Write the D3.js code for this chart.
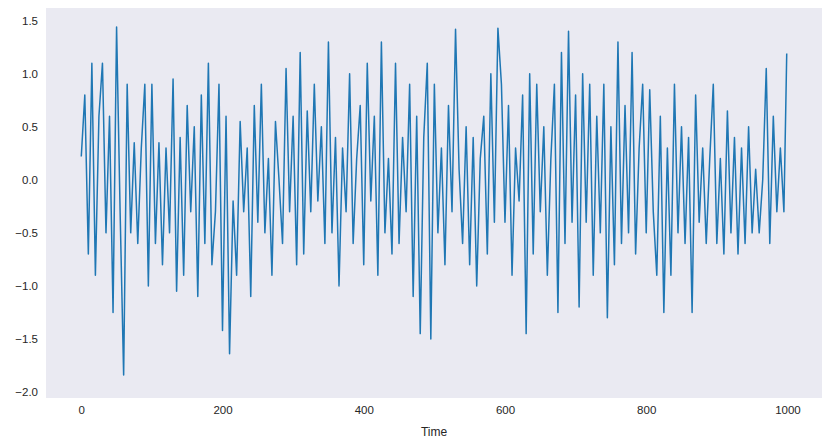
<!DOCTYPE html>
<html>
<head>
<meta charset="utf-8">
<script src="https://cdn.jsdelivr.net/npm/d3@7"></script>
<style>
body { margin: 0; background: #fff; }
text { font-family: "Liberation Sans", Arial, sans-serif; fill: #262626; }
</style>
</head>
<body>
<svg id="chart" width="832" height="448"></svg>
<script>
// values, one every 5 time steps, plus the last point
var seriesValues = [
  0.22, 0.8, -0.7, 1.1, -0.9, 0.6, 1.1, -0.5, 0.6, -1.25, 1.44, -0.3, -1.84, 0.9, -0.5, 0.35, -0.6, 0.3, 0.9, -1.0,
  0.9, -0.6, 0.35, -0.8, 0.3, -0.5, 0.95, -1.05, 0.4, -0.9, 0.7, -0.3, 0.5, -1.1, 0.8, -0.6, 1.1, -0.8, -0.3, 0.9,
  -1.42, 0.6, -1.64, -0.2, -0.9, 0.55, -0.3, 0.3, -1.1, 0.7, -0.4, 0.9, -0.5, 0.2, -0.9, 0.55, 0.0, -0.6, 1.05, -0.3,
  0.6, -0.8, 1.2, -0.7, 0.65, -0.3, 0.9, -0.2, 0.5, -0.6, 1.3, -0.5, 0.4, -1.0, 0.3, -0.3, 1.0, -0.6, 0.2, 0.7,
  -0.8, 1.1, -0.2, 0.6, -0.9, 1.3, -0.5, 0.2, -0.7, 1.1, -0.6, 0.4, -0.3, 0.9, -1.1, 0.6, -1.45, 0.4, 1.1, -1.5,
  0.9, -0.5, 0.3, -0.8, 0.7, -0.3, 1.42, 0.1, -0.6, 0.5, -0.8, 0.4, -1.0, 0.2, 0.6, -0.7, 1.0, -0.4, 1.43, 0.9,
  -0.4, 0.7, -0.9, 0.3, -0.2, 0.8, -1.45, 1.0, -0.7, 0.9, -0.3, 0.5, -0.9, 0.2, 0.9, -1.25, 1.2, -0.6, 1.4, -0.4,
  0.8, -1.2, 1.0, -0.4, 0.9, -0.9, 0.6, -0.5, 0.9, -1.3, 0.5, -0.8, 1.3, -0.6, 0.7, -0.5, 1.2, -0.7, 0.3, 0.9,
  -0.5, 0.85, -0.3, -0.9, 0.6, -1.25, 0.3, -0.9, 0.9, -0.5, 0.5, -0.6, 0.4, -1.25, 0.8, -0.4, 0.3, -0.6, 0.2, 0.9,
  -0.6, 0.2, -0.7, 0.65, -0.5, 0.4, -0.7, 0.3, -0.6, 0.5, -0.5, 0.1, -0.5, 0.0, 1.05, -0.6, 0.6, -0.3, 0.3, -0.3,
  1.19
];
var timeSteps = seriesValues.map((d, i) => i < 200 ? i * 5 : 999);
var xTicks = [0, 200, 400, 600, 800, 1000];
var yTicks = [-2.0, -1.5, -1.0, -0.5, 0.0, 0.5, 1.0, 1.5];

var svg = d3.select("#chart");
var plotLeft = 46, plotRight = 822, plotTop = 8, plotBottom = 398;

var x = d3.scaleLinear().domain([-49.95, 1048.95]).range([plotLeft, plotRight]);
var y = d3.scaleLinear().domain([-2.057, 1.62]).range([plotBottom, plotTop]);

svg.append("rect")
  .attr("x", plotLeft).attr("y", plotTop)
  .attr("width", plotRight - plotLeft).attr("height", plotBottom - plotTop)
  .attr("fill", "#eaeaf2");

var line = d3.line()
  .x((d, i) => x(timeSteps[i]))
  .y(d => y(d));

svg.append("path")
  .datum(seriesValues)
  .attr("d", line)
  .attr("fill", "none")
  .attr("stroke", "#1f77b4")
  .attr("stroke-width", 1.5)
  .attr("stroke-linejoin", "round");

// axes without lines or tick marks, like the seaborn dark style
var xAxis = svg.append("g")
  .attr("transform", "translate(0," + plotBottom + ")")
  .call(d3.axisBottom(x).tickValues(xTicks).tickFormat(d3.format("d")).tickSize(0).tickPadding(8));
var yAxis = svg.append("g")
  .attr("transform", "translate(" + plotLeft + ",0)")
  .call(d3.axisLeft(y).tickValues(yTicks).tickFormat(d3.format(".1f")).tickSize(0).tickPadding(8));
[xAxis, yAxis].forEach(function(g) {
  g.select(".domain").remove();
  g.selectAll("text").style("font-size", "11.5px").attr("fill", "#262626");
});

svg.append("text")
  .attr("x", (plotLeft + plotRight) / 2).attr("y", 436)
  .attr("text-anchor", "middle")
  .style("font-size", "12px")
  .text("Time");
</script>
</body>
</html>
